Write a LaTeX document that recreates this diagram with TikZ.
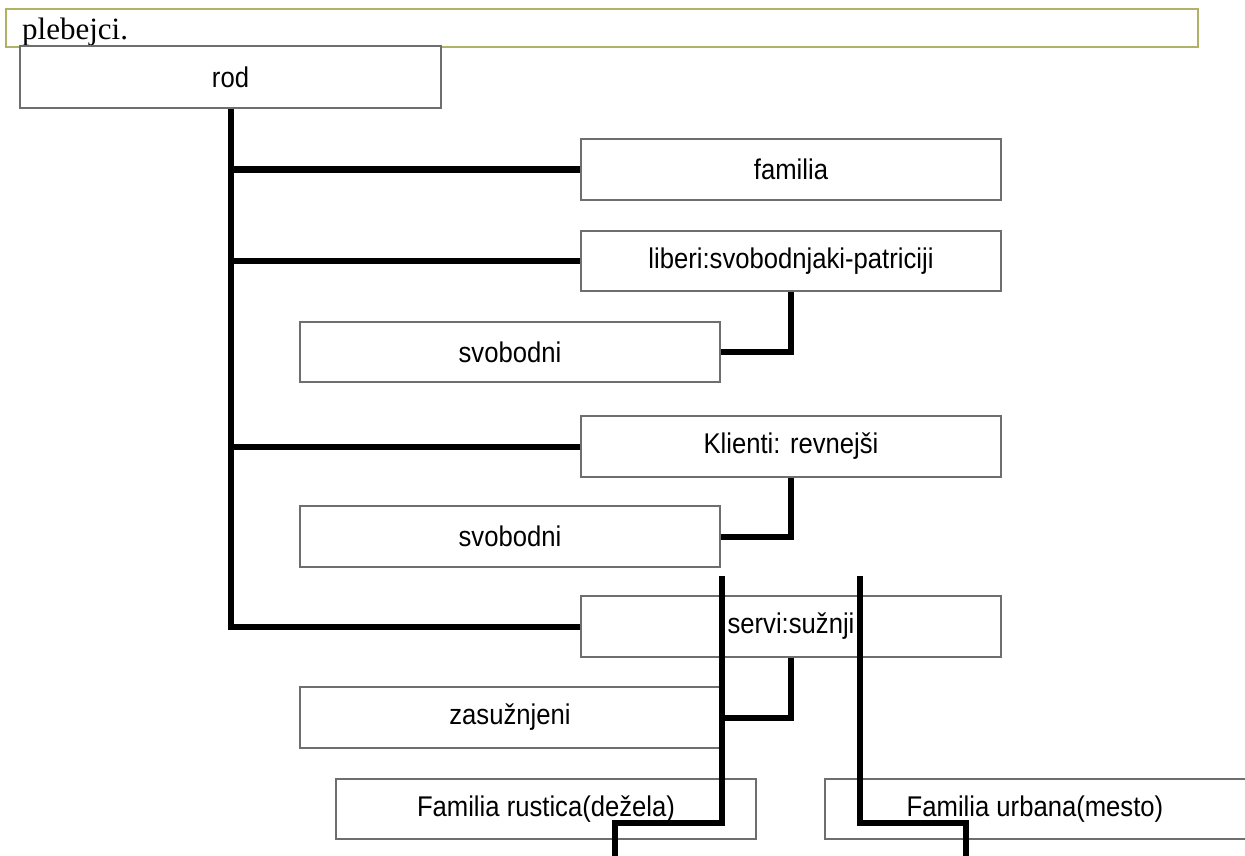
\documentclass[tikz,border=0pt]{standalone}
\usepackage{fontspec}
\setmainfont{Liberation Serif}
\newfontfamily\boxfont[FakeStretch=0.9]{Liberation Sans}
\definecolor{barolive}{RGB}{178,178,102}
\definecolor{boxgray}{RGB}{110,110,110}
\begin{document}
\begin{tikzpicture}[x=1pt,y=-1pt,
  box/.style={draw=boxgray,line width=1.2pt,fill=white,minimum width=420pt,minimum height=61pt,inner sep=0pt,font=\boxfont\fontsize{28.5}{32}\selectfont},
  conn/.style={draw=black,line width=6pt,line join=miter,line cap=butt},
  bar/.style={draw=barolive,line width=2pt,fill=white}]
\useasboundingbox (0,0) rectangle (1245,856);
% top bar
\draw[bar] (6,9) rectangle (1198,47);
\node[anchor=base west,inner sep=0pt,font=\fontsize{31}{34}\selectfont] (pleb) at (22,40) {plebejci.};
% boxes
\node[box,minimum width=421pt,minimum height=62pt] (rod) at (230.5,77) {rod};
\node[box] (familia) at (791,169.5) {familia};
\node[box,minimum height=60pt] (liberi) at (791,261) {liberi:svobodnjaki-patriciji};
\node[box,minimum height=60pt] (svob1) at (510,352) {svobodni};
\node[box] (klienti) at (791,446.5) {Klienti: revnejši};
\node[box] (svob2) at (510,536.5) {svobodni};
\node[box] (servi) at (791,626.5) {servi:sužnji};
\node[box] (zas) at (510,717.5) {zasužnjeni};
\node[box,minimum height=60pt] (rustica) at (546,809) {Familia rustica(dežela)};
\node[box,minimum height=60pt,minimum width=440pt] (urbana) at (1045,809) {\hspace*{-20pt}Familia urbana(mesto)};
% free-end coordinates
\coordinate (rt) at (722,576);
\coordinate (rj) at (722,823);
\coordinate (rb) at (615,862);
\coordinate (ut) at (860,576);
\coordinate (uj) at (860,823);
\coordinate (ub) at (966,862);
% connectors
\draw[conn] (rod.south) |- (servi.west);
\draw[conn] (rod.south |- familia.west) -- (familia.west);
\draw[conn] (rod.south |- liberi.west) -- (liberi.west);
\draw[conn] (rod.south |- klienti.west) -- (klienti.west);
\draw[conn] (liberi.south) |- (svob1.east);
\draw[conn] (klienti.south) |- (svob2.east);
\draw[conn] (servi.south) |- (zas.east);
\draw[conn] (rt) -- (rj) -| (rb);
\draw[conn] (ut) -- (uj) -| (ub);
\end{tikzpicture}
\end{document}
